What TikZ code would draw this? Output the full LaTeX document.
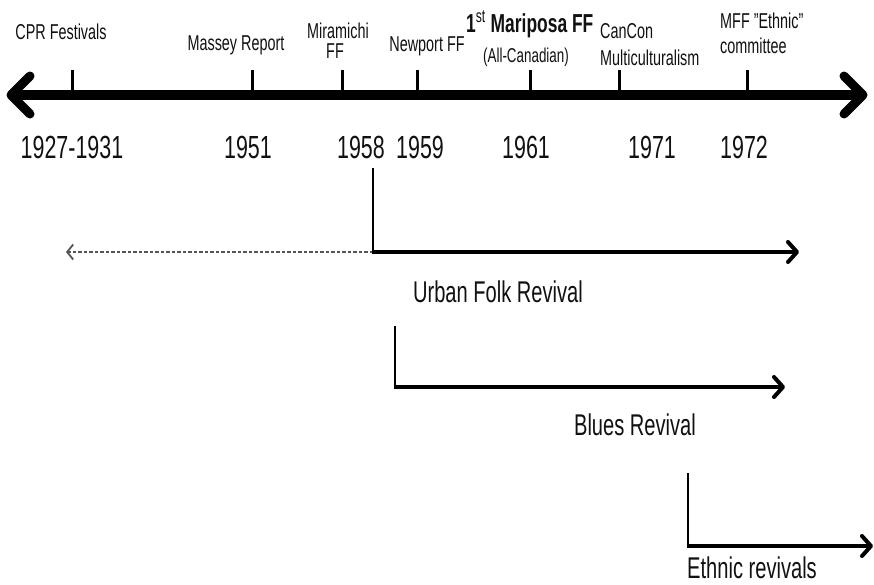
\documentclass[tikz,border=0pt]{standalone}
\usepackage{fontspec}
\setmainfont{Liberation Sans}[FakeStretch=0.67]
\usetikzlibrary{arrows.meta}
\definecolor{ink}{HTML}{111111}
\definecolor{dashink}{HTML}{555555}
\begin{document}
\begin{tikzpicture}[x=1pt,y=-1pt,
  lbl/.style={font=\fontsize{21.5}{23}\selectfont, inner sep=0pt, anchor=base, text=ink},
  lblw/.style={lbl, anchor=base west},
  yearlbl/.style={font=\fontsize{32}{34}\selectfont, inner sep=0pt, anchor=base, text=ink},
  revlbl/.style={font=\fontsize{30}{32}\selectfont, inner sep=0pt, anchor=base, text=ink},
  axisline/.style={line width=10pt, draw=black},
  chevron/.style={line width=9pt, draw=black, line cap=round, line join=round},
  tickmark/.style={line width=3pt, draw=black},
  riser/.style={line width=2.6pt, draw=black},
  span/.style={line width=4pt, draw=black, -{Straight Barb[length=9pt,width=20pt,round]}},
  back/.style={line width=1.8pt, draw=dashink, dash pattern=on 3.5pt off 2pt, -{Straight Barb[length=6pt,width=15pt]}}
]
\useasboundingbox (0,0) rectangle (874,584);

% main axis
\coordinate (L) at (11,95);
\coordinate (R) at (863,95);
\draw[axisline] (L) -- (R);
\draw[chevron] (30,76) -- (L) -- (30,114);
\draw[chevron] (844,76) -- (R) -- (844,114);

% ticks
\foreach \n/\x in {cpr/72, mas/252, mir/342, new/417, mar/530, can/619, mff/747}{
  \coordinate (t\n) at (\x,70);
  \coordinate (b\n) at (\x,95);
  \draw[tickmark] (t\n) -- (b\n);
}

% top labels
\node[lbl] (cpr) at (61,39) {CPR Festivals};
\node[lbl] (massey) at (236,50) {Massey Report};
\node[lbl] (mira1) at (338,38) {Miramichi};
\node[lbl] (mira2) at (335,58) {FF};
\node[lbl] (newport) at (427,51) {Newport FF};
\node[inner sep=0pt, anchor=base west, text=ink, font=\fontsize{26}{28}\selectfont\bfseries] (mariposa) at (466,32) {1\textsuperscript{\mdseries st} Mariposa FF};
\node[lbl, font=\fontsize{20}{22}\selectfont] (allcan) at (526,62) {(All-Canadian)};
\node[lblw] (cancon) at (600,38) {CanCon};
\node[lblw] (multi) at (600,65) {Multiculturalism};
\node[lblw] (mff) at (720,28) {MFF "Ethnic"};
\node[lblw] (comm) at (720,53) {committee};

% years
\node[yearlbl] (y1927) at (72,158) {1927-1931};
\node[yearlbl] (y1951) at (248,158) {1951};
\node[yearlbl] (y1958) at (361,158) {1958};
\node[yearlbl] (y1959) at (420,158) {1959};
\node[yearlbl] (y1961) at (526,158) {1961};
\node[yearlbl] (y1971) at (652,158) {1971};
\node[yearlbl] (y1972) at (744,158) {1972};

% Urban folk revival
\coordinate (u0) at (373,168);
\coordinate (u1) at (373,252);
\coordinate (u2) at (799,252);
\coordinate (u3) at (66,252);
\draw[back] (u1) -- (u3);
\draw[riser] (u0) -- (u1);
\draw[span] ([xshift=-1.3pt]u1) -- (u2);
\node[revlbl] (urban) at (498,302) {Urban Folk Revival};

% Blues revival
\coordinate (b0) at (395,326);
\coordinate (b1) at (395,387);
\coordinate (b2) at (785,387);
\draw[riser] (b0) -- (b1);
\draw[span] ([xshift=-1.3pt]b1) -- (b2);
\node[revlbl] (blues) at (635,435) {Blues Revival};

% Ethnic revivals
\coordinate (e0) at (688,473);
\coordinate (e1) at (688,546);
\coordinate (e2) at (873,546);
\draw[riser] (e0) -- (e1);
\draw[span] ([xshift=-1.3pt]e1) -- (e2);
\node[revlbl] (ethnic) at (752,578) {Ethnic revivals};
\end{tikzpicture}
\end{document}
